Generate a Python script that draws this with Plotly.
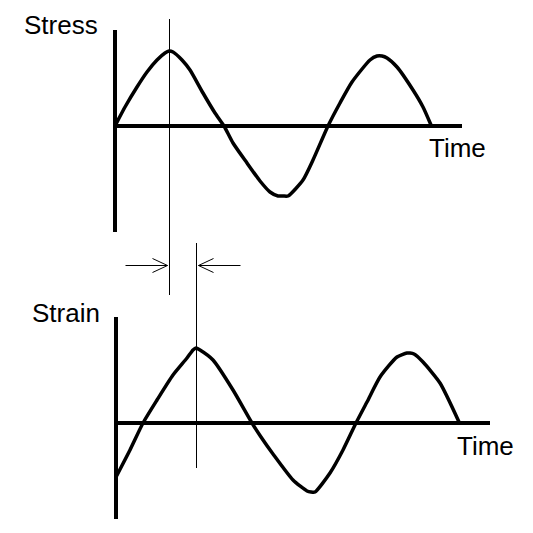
import numpy as np
import plotly.graph_objects as go

# 应力曲线（时间, 应力）
stress_time = [0, 10, 22, 32, 42, 50, 54, 58, 67, 75, 88, 100, 109, 118, 132, 145,
               155, 163, 168, 173, 188, 198, 213, 225, 237, 255, 262, 267, 272, 282,
               298, 308, 316]
stress = [0, 19, 39, 54, 66, 73, 75, 74, 66, 56, 33, 13, 0, -17, -37, -55,
          -66, -70, -70, -70, -54, -34, 0, 23, 44, 66, 70, 70, 68, 59,
          36, 19, 1]

# 应变曲线（时间, 应变）
strain_time = [0, 14, 27, 41, 57, 71, 77, 80, 84, 97, 117, 136, 145, 157, 177,
               191, 195, 199, 214, 227, 240, 251, 264, 281, 291, 294, 298, 307,
               324, 343]
strain = [-54, -27, 0, 23, 48, 65, 73, 75, 73, 63, 33, 0, -14, -31, -57,
          -68, -69, -69, -50, -27, 0, 21, 46, 66, 70, 70, 69, 61,
          40, 1]

labels = ["Stress", "Strain"]
time_label = "Time"

# 页面 body 默认有 8px 边距，图放在 8..533 之间
OFF = 8
W = H = 533 - OFF
FONT = "Arial, Liberation Sans, sans-serif"


def px(v):
    return (v - OFF) / W


def py(v):
    return 1 - (v - OFF) / H


# 峰值时刻（相位差）
t_stress_peak = stress_time[int(np.argmax(stress))]
t_strain_peak = strain_time[int(np.argmax(strain))]

fig = go.Figure()

fig.add_trace(go.Scatter(
    x=stress_time, y=stress, mode='lines', xaxis='x', yaxis='y',
    line=dict(color='black', width=3.5, shape='spline', smoothing=0.6),
    hoverinfo='skip', showlegend=False
))
fig.add_trace(go.Scatter(
    x=strain_time, y=strain, mode='lines', xaxis='x2', yaxis='y2',
    line=dict(color='black', width=3.5, shape='spline', smoothing=0.6),
    hoverinfo='skip', showlegend=False
))

xax = dict(showgrid=False, zeroline=False, showticklabels=False, ticks='',
           showline=False, fixedrange=True)
yax = dict(showgrid=False, showticklabels=False, ticks='', fixedrange=True,
           showline=True, linecolor='black', linewidth=4,
           zeroline=True, zerolinecolor='black', zerolinewidth=4)

thin = dict(color='black', width=1)
shapes = []
# 两条竖直参考线（偏半个像素，让 1px 细线清晰）
for xr, tp, top, bot in [('x', t_stress_peak, 19, 295), ('x2', t_strain_peak, 243, 468)]:
    shapes.append(dict(type='line', xref=xr, yref='paper',
                       xsizemode='pixel', xanchor=tp, x0=0.5, x1=0.5,
                       y0=py(bot), y1=py(top), line=thin))

# 箭头（开口箭头，用线段画）
ya = py(266)
for xr, tp, sgn in [('x', t_stress_peak, -1), ('x2', t_strain_peak, 1)]:
    segs = [(sgn * 2, 0, sgn * 44, 0),
            (sgn * 2, 0, sgn * 17, 7),
            (sgn * 2, 0, sgn * 17, -7)]
    for x0, y0, x1, y1 in segs:
        shapes.append(dict(type='line', xref=xr, yref='paper',
                           xsizemode='pixel', xanchor=tp,
                           ysizemode='pixel', yanchor=ya,
                           x0=x0 + 0.5, x1=x1 + 0.5, y0=y0 + 0.5, y1=y1 + 0.5,
                           line=thin))

annotations = [
    dict(text=labels[0], x=px(100), y=py(25), xanchor='right', yanchor='middle'),
    dict(text=time_label, x=px(427), y=py(148), xanchor='left', yanchor='middle'),
    dict(text=labels[1], x=px(102), y=py(313), xanchor='right', yanchor='middle'),
    dict(text=time_label, x=px(455), y=py(446), xanchor='left', yanchor='middle'),
]
for a in annotations:
    a.update(xref='paper', yref='paper', showarrow=False,
             font=dict(family=FONT, size=26, color='black'))

fig.update_layout(
    width=W, height=H,
    margin=dict(l=0, r=0, t=0, b=0),
    paper_bgcolor='white', plot_bgcolor='white',
    # y 轴线画在绘图区外侧 2px，t=0 对齐到轴线中心
    xaxis=dict(xax, domain=[px(117), px(462)], range=[2, 347], anchor='y'),
    yaxis=dict(yax, domain=[py(232), py(30)], range=[-106, 96], anchor='x'),
    xaxis2=dict(xax, domain=[px(118), px(490)], range=[2, 374], anchor='y2'),
    yaxis2=dict(yax, domain=[py(519), py(317)], range=[-96, 106], anchor='x2'),
    shapes=shapes,
    annotations=annotations,
    showlegend=False,
)

fig.write_html("out.html")
